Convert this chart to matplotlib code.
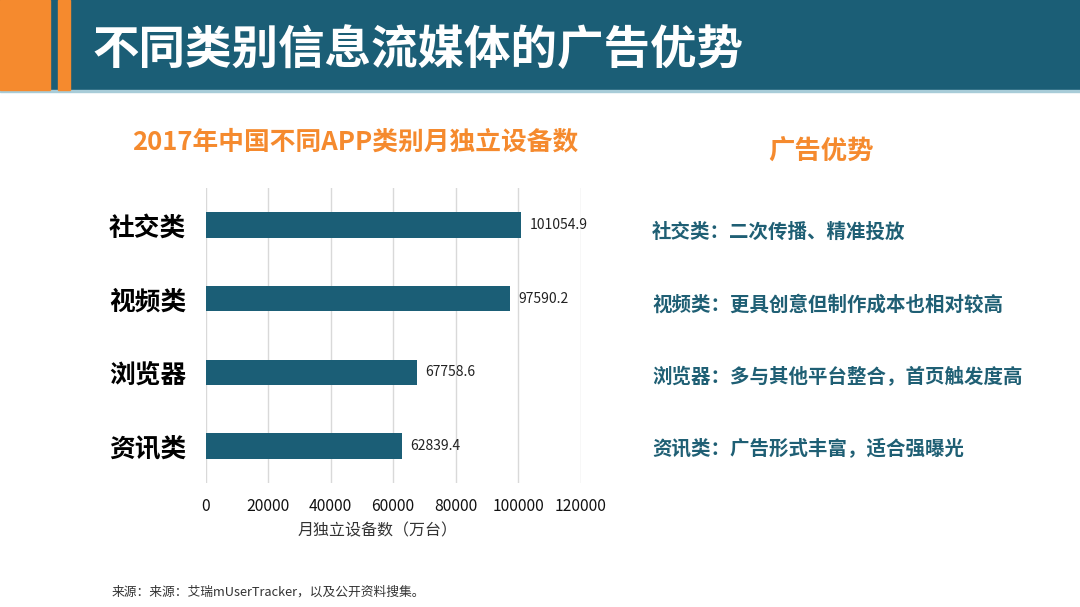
import matplotlib.pyplot as plt
from matplotlib.patches import Rectangle

plt.rcParams['font.family'] = ['Noto Sans CJK SC', 'DejaVu Sans']

# data
categories = ["社交类", "视频类", "浏览器", "资讯类"]
devices = [101054.9, 97590.2, 67758.6, 62839.4]
xticks = [0, 20000, 40000, 60000, 80000, 100000, 120000]
advantages = [
    "社交类：二次传播、精准投放",
    "视频类：更具创意但制作成本也相对较高",
    "浏览器：多与其他平台整合，首页触发度高",
    "资讯类：广告形式丰富，适合强曝光",
]

TEAL = "#1B5E76"
ORANGE = "#F58A2E"

W, H = 1080, 607
fig = plt.figure(figsize=(W / 100, H / 100), dpi=100)
fig.patch.set_facecolor("white")

def fx(px):
    return px / W

def fy(py):
    return 1 - py / H

# header band
fig.patches.append(Rectangle((0, fy(90)), 1, 90 / H, transform=fig.transFigure,
                             color=TEAL, zorder=0))
fig.patches.append(Rectangle((0, fy(92)), 1, 2 / H, transform=fig.transFigure,
                             color="#A8CCD8", zorder=0))
fig.patches.append(Rectangle((0, fy(90)), fx(50), 90 / H, transform=fig.transFigure,
                             color=ORANGE, zorder=1))
fig.patches.append(Rectangle((fx(58), fy(90)), fx(12), 90 / H, transform=fig.transFigure,
                             color=ORANGE, zorder=1))
fig.text(fx(92), fy(50), "不同类别信息流媒体的广告优势", color="white", fontsize=33.5,
         fontweight="bold", ha="left", va="center")

# chart
ax = fig.add_axes([fx(205.5), fy(483), fx(375), 295 / H])
ypos = list(range(len(categories)))
ax.barh(ypos, devices, height=0.345, color=TEAL, zorder=3)
for y, v in zip(ypos, devices):
    ax.text(v + 2600, y, f"{v:.1f}", va="center", ha="left", fontsize=10, color="#222222")

ax.set_xlim(0, 120000)
ax.set_ylim(3.5, -0.5)
ax.set_xticks(xticks)
ax.set_xticklabels([str(t) for t in xticks], fontsize=11.3, color="#111111")
ax.set_yticks(ypos)
ax.set_yticklabels(categories, fontsize=18.5, fontweight="bold", color="black")
ax.tick_params(length=0)
ax.tick_params(axis="x", pad=11)
ax.tick_params(axis="y", pad=14)
ax.grid(axis="x", color="#D9D9D9", linewidth=1, zorder=0)
for s in ax.spines.values():
    s.set_visible(False)
ax.set_xlabel("月独立设备数（万台）", fontsize=11.5, color="#333333")
ax.xaxis.set_label_coords(0.46, -0.135)

fig.text(fx(355), fy(142), "2017年中国不同APP类别月独立设备数", color=ORANGE,
         fontsize=18.5, fontweight="bold", ha="center", va="center")

# right panel
fig.text(fx(821), fy(152), "广告优势", color=ORANGE, fontsize=19, fontweight="bold",
         ha="center", va="center")
for i, txt in enumerate(advantages):
    fig.text(fx(652), fy(232 + i * 72.5), txt, color="#1F5F74", fontsize=14,
             fontweight="bold", fontstyle="italic", ha="left", va="center")

# footer
fig.text(fx(112), fy(592), "来源：来源：艾瑞mUserTracker，以及公开资料搜集。", color="#333333",
         fontsize=9.2, ha="left", va="center")

fig.savefig("out.png", dpi=100)
